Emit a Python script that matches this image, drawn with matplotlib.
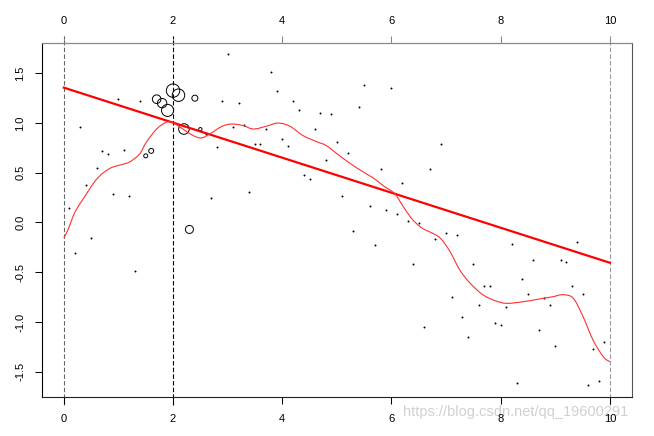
import matplotlib
matplotlib.use('Agg')
import matplotlib.pyplot as plt
from matplotlib.path import Path
from matplotlib.patches import PathPatch
import numpy as np

plt.rcParams['font.family'] = ['Liberation Sans', 'DejaVu Sans']
plt.rcParams['axes.unicode_minus'] = False

# observed points
x_pts = [0.1, 0.2, 0.3, 0.4, 0.5, 0.6, 0.7, 0.8, 0.9, 1.0,
         1.1, 1.2, 1.3, 1.4, 1.5, 1.6, 1.7, 1.8, 1.9, 2.0,
         2.1, 2.2, 2.3, 2.4, 2.5, 2.6, 2.7, 2.8, 2.9, 3.0,
         3.1, 3.2, 3.3, 3.4, 3.5, 3.6, 3.7, 3.8, 3.9, 4.0,
         4.1, 4.2, 4.3, 4.4, 4.5, 4.6, 4.7, 4.8, 4.9, 5.0,
         5.1, 5.2, 5.3, 5.4, 5.5, 5.6, 5.7, 5.8, 5.9, 6.0,
         6.1, 6.2, 6.3, 6.4, 6.5, 6.6, 6.7, 6.8, 6.9, 7.0,
         7.1, 7.2, 7.3, 7.4, 7.5, 7.6, 7.7, 7.8, 7.9, 8.0,
         8.1, 8.2, 8.3, 8.4, 8.5, 8.6, 8.7, 8.8, 8.9, 9.0,
         9.1, 9.2, 9.3, 9.4, 9.5, 9.6, 9.7, 9.8, 9.9]
y_pts = [0.15, -0.307, 0.958, 0.38, -0.155, 0.55, 0.72, 0.69, 0.29, 1.245,
         0.73, 0.27, -0.49, 1.22, 0.67, 0.72, 1.24, 1.20, 1.127, 1.326,
         1.28, 0.94, -0.07, 1.25, 0.938, 0.89, 0.25, 0.76, 1.218, 1.69,
         0.958, 1.20, 0.98, 0.31, 0.79, 0.79, 0.944, 1.51, 1.326, 0.84,
         0.77, 1.225, 1.13, 0.475, 0.435, 0.94, 1.106, 0.63, 1.09, 0.81,
         0.266, 0.70, -0.081, 1.157, 1.387, 0.162, -0.223, 0.536, 0.13, 1.356,
         0.084, 0.40, 0.01, -0.42, -0.003, -1.05, 0.536, -0.169, 0.79, -0.105,
         -0.746, -0.125, -0.948, -1.15, -0.42, -0.827, -0.64, -0.64, -1.01, -1.03,
         -0.85, -0.22, -1.61, -0.567, -0.72, -0.375, -1.08, -0.76, -0.827, -1.24,
         -0.375, -0.40, -0.64, -0.195, -0.715, -1.63, -1.27, -1.59, -1.20]

# local weights around x0 = 2 (circle sizes)
w_x = [1.5, 1.6, 1.7, 1.8, 1.9, 2.0, 2.1, 2.2, 2.3, 2.4, 2.5]
w_val = [0.30, 0.37, 0.64, 0.70, 0.90, 1.0, 0.93, 0.79, 0.60, 0.45, 0.25]

# global linear fit
line_x = [0, 10]
line_y = [1.356, -0.405]

# smooth fit curve (knots)
smooth_x = [0, 0.08, 0.17, 0.23, 0.35, 0.6, 0.84, 1.09, 1.21, 1.39, 1.51, 1.70,
            1.88, 2.0, 2.18, 2.37, 2.52, 2.67, 2.89, 3.07, 3.28, 3.47, 3.71,
            3.92, 4.14, 4.38, 4.63, 4.81, 5.05, 5.36, 5.66, 5.85, 6.06, 6.21,
            6.37, 6.52, 6.62, 6.72, 6.89, 7.07, 7.25, 7.44, 7.68, 7.92, 8.11,
            8.41, 8.78, 8.96, 9.14, 9.33, 9.51, 9.69, 9.88, 10.0]
smooth_y = [-0.155, -0.07, 0.064, 0.13, 0.233, 0.435, 0.543, 0.587, 0.61, 0.69,
            0.807, 0.94, 1.009, 1.002, 0.94, 0.874, 0.85, 0.89, 0.965, 0.99,
            0.975, 0.94, 0.968, 1.0, 0.968, 0.874, 0.813, 0.772, 0.671, 0.55,
            0.45, 0.37, 0.29, 0.165, 0.04, -0.04, -0.075, -0.1, -0.155, -0.29,
            -0.476, -0.61, -0.729, -0.79, -0.813, -0.797, -0.762, -0.746,
            -0.726, -0.762, -0.948, -1.18, -1.35, -1.40]

xticks = [0, 2, 4, 6, 8, 10]
yticks = [-1.5, -1.0, -0.5, 0.0, 0.5, 1.0, 1.5]
ref_lines = [0, 2, 10]
ref_colors = ['#666666', 'black', '#999999']
watermark = 'https://blog.csdn.net/qq_19600291'


def smooth_path(xs, ys):
    """Catmull-Rom style cubic Bezier path through the knots."""
    p = np.column_stack([xs, ys]).astype(float)
    verts = [p[0]]
    codes = [Path.MOVETO]
    n = len(p)
    for i in range(n - 1):
        p0 = p[i - 1] if i > 0 else p[i]
        p1 = p[i]
        p2 = p[i + 1]
        p3 = p[i + 2] if i + 2 < n else p[i + 1]
        c1 = p1 + (p2 - p0) / 6.0
        c2 = p2 - (p3 - p1) / 6.0
        verts += [c1, c2, p2]
        codes += [Path.CURVE4] * 3
    return Path(verts, codes)


fig = plt.figure(figsize=(6.54, 4.36), dpi=100)
ax = fig.add_axes([0.0642, 0.0894, 0.9017, 0.812])
ax.set_xlim(-0.4, 10.4)
ax.set_ylim(-1.755, 1.805)

xa = np.array(x_pts)
ya = np.array(y_pts)
wmap = dict(zip(w_x, w_val))
w = np.array([wmap.get(v, 0.0) for v in x_pts])

ax.scatter(xa[w == 0], ya[w == 0], s=2.0, c='black', linewidths=0, zorder=2)
ax.scatter(xa[w > 0], ya[w > 0], s=(9.65 * w[w > 0]) ** 2, facecolors='none',
           edgecolors='black', linewidths=0.7, zorder=2)

for xv, col in zip(ref_lines, ref_colors):
    ax.axvline(xv, ymin=-0.022, ymax=1.02, color=col, lw=0.8, ls=(0, (4, 2)),
               clip_on=False, zorder=1)

ax.plot(line_x, line_y, color='red', lw=1.6, zorder=3)
ax.add_patch(PathPatch(smooth_path(smooth_x, smooth_y), facecolor='none',
                       edgecolor='#ff3030', lw=0.8, zorder=3))

ax.spines['left'].set_color('black')
ax.spines['bottom'].set_color('#222222')
ax.spines['top'].set_color('#888888')
ax.spines['right'].set_color('#555555')
for s in ax.spines.values():
    s.set_linewidth(0.8)

ax.set_xticks(xticks)
ax.set_xticklabels([str(t) for t in xticks])
ax.set_yticks(yticks)
ax.set_yticklabels(['%.1f' % t for t in yticks], rotation=90, va='center')
ax.tick_params(axis='both', direction='out', length=5, width=0.75,
               labelsize=8, pad=7, colors='black')

sec = ax.secondary_xaxis('top')
sec.set_xticks(xticks)
sec.set_xticklabels([str(t) for t in xticks])
sec.tick_params(direction='out', length=5, width=0.75, labelsize=8, pad=7,
                color='#888888', labelcolor='black')
sec.spines['top'].set_color('#888888')
sec.spines['top'].set_linewidth(0.8)

fig.text(0.616, 0.055, watermark, color='#d0d0d0', fontsize=10.5,
         ha='left', va='center', zorder=-1)

fig.savefig('out.png', dpi=100)
